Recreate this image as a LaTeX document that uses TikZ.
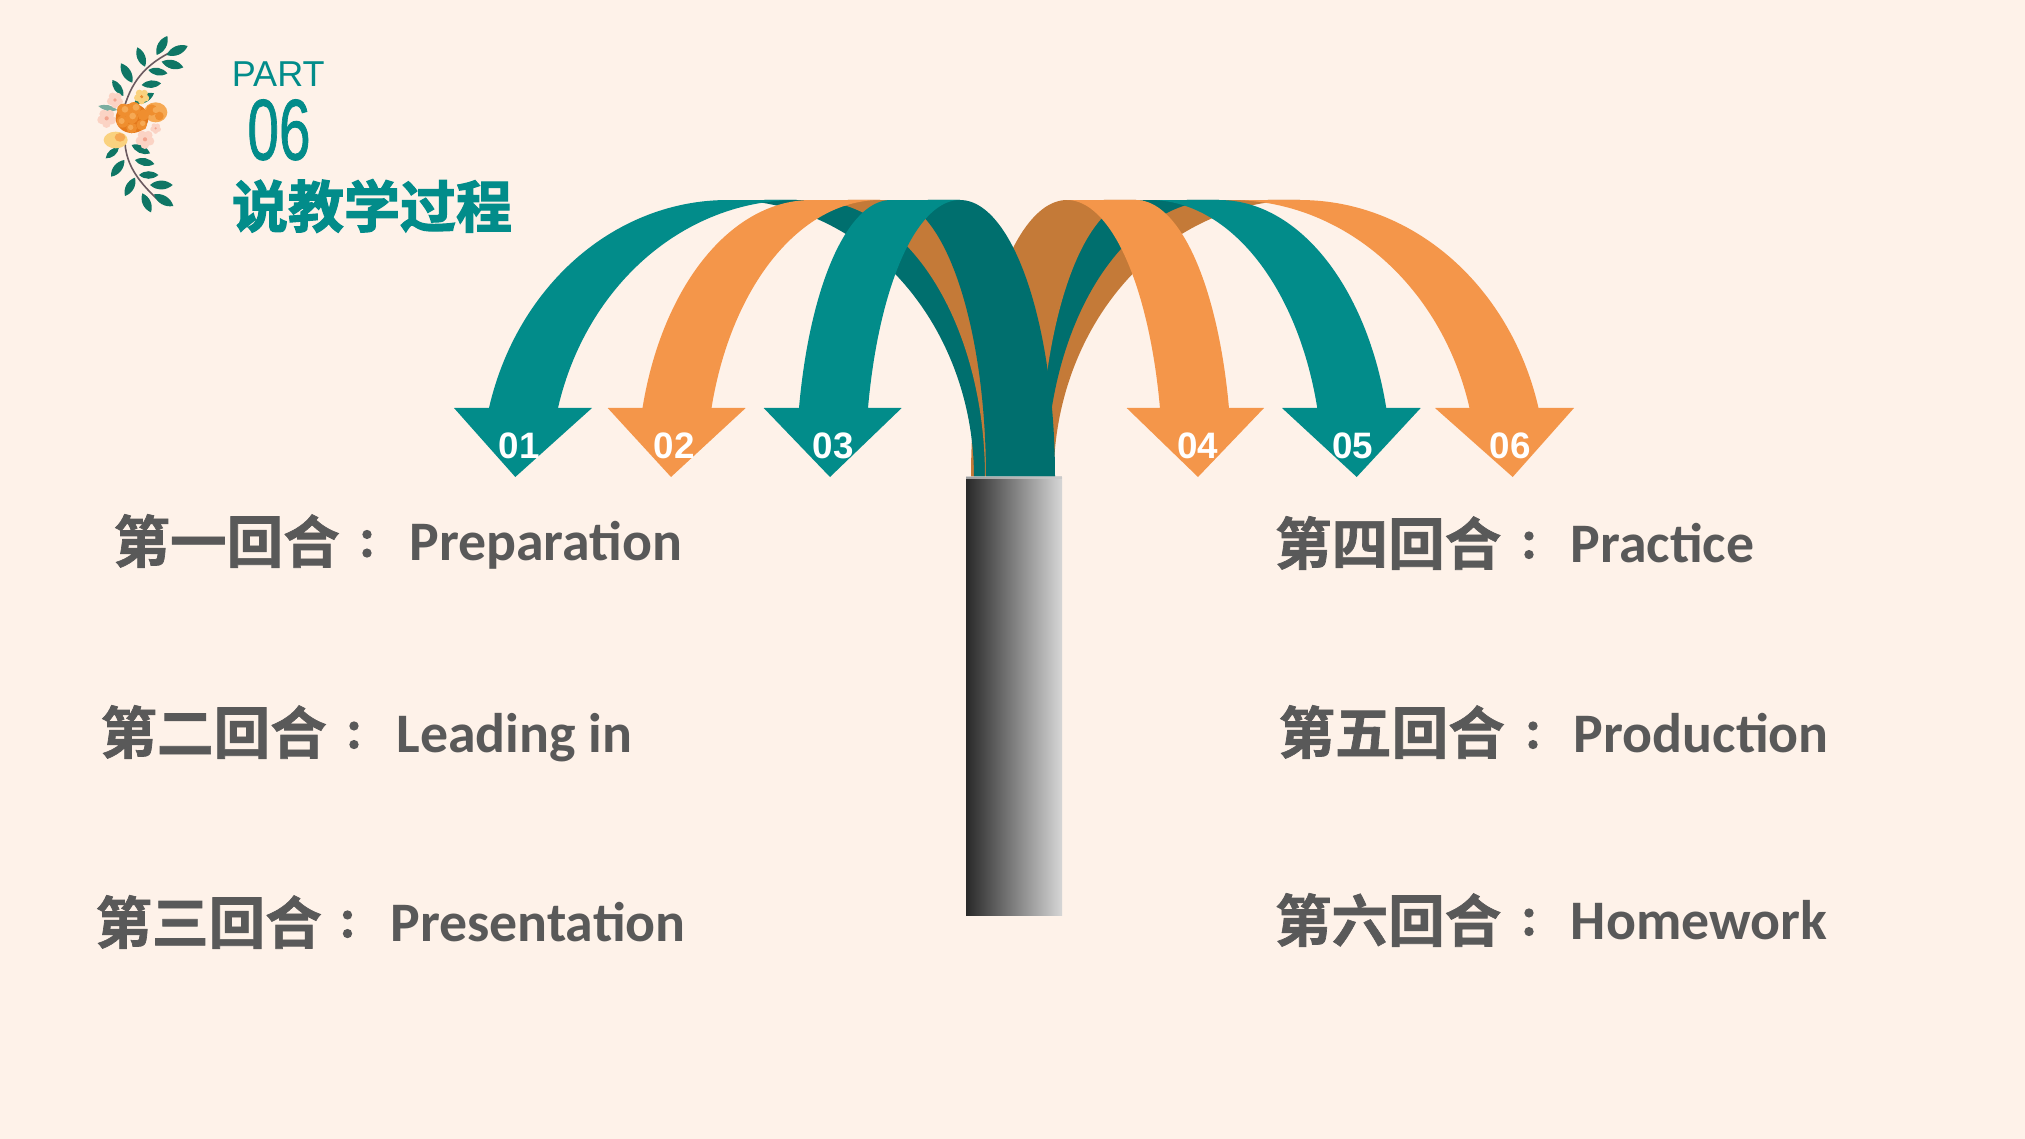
\documentclass[tikz,border=0pt]{standalone}
\usepackage{fontspec}
\setmainfont{Liberation Sans}
\newfontfamily\cjkheavy[FakeBold=2.2]{Noto Sans CJK SC Bold}
\newfontfamily\cjkrow[FakeBold=1.2]{Noto Sans CJK SC Bold}
\newfontfamily\cjkcolon[FakeBold=4.5]{Noto Sans CJK TC Bold}
\newfontfamily\numeralface[FakeBold=1.2]{Liberation Sans}
\newfontfamily\latinrow{Carlito}
\definecolor{paper}{HTML}{FEF2E9}
\definecolor{teal}{HTML}{028C8A}
\definecolor{tealdark}{HTML}{006F6E}
\definecolor{amber}{HTML}{F4964A}
\definecolor{amberdark}{HTML}{C47A38}
\definecolor{inkgrey}{HTML}{595959}
\definecolor{leafgreen}{HTML}{0F7665}
\definecolor{stemgrey}{HTML}{6B5A60}
\definecolor{petaldeep}{HTML}{E4791C}
\definecolor{petalmid}{HTML}{EF8E2F}
\definecolor{petallight}{HTML}{F6A954}
\definecolor{petalpale}{HTML}{FAD27F}
\definecolor{blush}{HTML}{FBD3C4}
\definecolor{blushdeep}{HTML}{F3A58F}
\tikzset{
  numlabel/.style={text=white,font=\fontsize{18.4pt}{18pt}\selectfont\bfseries,inner sep=0pt,anchor=center},
  cjklabel/.style={text=inkgrey,font=\cjkrow\fontsize{28.3pt}{28pt}\selectfont,inner sep=0pt,anchor=west},
  colonlabel/.style={text=inkgrey,font=\cjkcolon\fontsize{19.5pt}{20pt}\selectfont,inner sep=0pt,anchor=center},
  latinlabel/.style={text=inkgrey,font=\latinrow\bfseries\fontsize{27.9pt}{28pt}\selectfont,inner sep=0pt,anchor=base west},
  leaf/.style={fill=leafgreen,draw=none}
}
% Left-hand arrow: #1 outer centre, #2 half width, #3 head left, #4 head right, #5 tip, #6 front colour, #7 back colour
\newcommand\archleft[7]{%
  \pgfmathsetmacro\cb{#1+69}%
  \fill[#7] plot[domain=0:90,samples=60,variable=\t] ({#1+#2*cos(\t)},{477-277*sin(\t)})
     -- plot[domain=90:0,samples=60,variable=\t] ({\cb+#2*cos(\t)},{477-277*sin(\t)}) -- cycle;
  \fill[#6] plot[domain=165.57:90,samples=60,variable=\t] ({#1+#2*cos(\t)},{477-277*sin(\t)})
     -- plot[domain=90:165.57,samples=60,variable=\t] ({\cb+#2*cos(\t)},{477-277*sin(\t)})
     -- (#4,408) -- (#5,477) -- (#3,408) -- cycle;
}
% Right-hand arrow: same arguments, the front limb falling to the right
\newcommand\archright[7]{%
  \pgfmathsetmacro\cb{#1+69}%
  \fill[#7] plot[domain=180:90,samples=60,variable=\t] ({#1+#2*cos(\t)},{477-277*sin(\t)})
     -- plot[domain=90:180,samples=60,variable=\t] ({\cb+#2*cos(\t)},{477-277*sin(\t)}) -- cycle;
  \fill[#6] plot[domain=14.43:90,samples=60,variable=\t] ({#1+#2*cos(\t)},{477-277*sin(\t)})
     -- plot[domain=90:14.43,samples=60,variable=\t] ({\cb+#2*cos(\t)},{477-277*sin(\t)})
     -- (#4,408) -- (#5,477) -- (#3,408) -- cycle;
}
\newcommand\leafshape[4]{\fill[leaf] (#1,#2) to[bend left=42] (#3,#4) to[bend left=42] (#1,#2);}
% Five-petal blossom: centre x, centre y, petal radius, petal colour, heart colour
\newcommand\smallbloom[5]{%
  \foreach \q in {0,72,144,216,288}{\fill[#4] ({#1+#3*0.75*cos(\q+20)},{#2+#3*0.75*sin(\q+20)}) circle[radius=#3*0.62];}
  \fill[#5] (#1,#2) circle[radius=#3*0.3];
}
\begin{document}
\begin{tikzpicture}[x=0.5pt,y=-0.5pt]
\useasboundingbox (0,0) rectangle (2025,1139);
\fill[paper] (0,0) rectangle (2025,1139);

% Spray of leaves and blossoms
\begin{scope}[shift={(60,10)},x=0.16667pt,y=-0.16667pt]
  \draw[stemgrey,line width=0.8pt,line cap=round] (195,285) .. controls (215,220) and (250,170) .. (325,130);
  \draw[stemgrey,line width=0.8pt,line cap=round] (195,400) .. controls (200,470) and (240,520) .. (300,575);
  \leafshape{290}{135}{322}{78}
  \leafshape{320}{135}{383}{108}
  \leafshape{255}{170}{232}{112}
  \leafshape{305}{155}{370}{172}
  \leafshape{265}{180}{322}{190}
  \leafshape{217}{218}{183}{160}
  \leafshape{245}{225}{303}{220}
  \leafshape{190}{258}{157}{210}
  \leafshape{137}{445}{177}{412}
  \leafshape{225}{450}{283}{462}
  \leafshape{153}{500}{193}{450}
  \leafshape{237}{495}{295}{495}
  \leafshape{195}{558}{225}{503}
  \leafshape{270}{525}{338}{525}
  \leafshape{273}{607}{247}{550}
  \leafshape{282}{553}{340}{588}
  \leafshape{215}{405}{270}{430}
  \leafshape{222}{280}{282}{250}
  \fill[leafgreen!55!paper] (115,288) to[bend left=30] (172,300) to[bend left=30] (115,288);
  \smallbloom{140}{325}{21}{blush}{blushdeep}
  \smallbloom{165}{270}{18}{blush}{blushdeep}
  \smallbloom{255}{388}{21}{blush}{blushdeep}
  \smallbloom{287}{355}{12}{blush}{blushdeep}
  \smallbloom{245}{260}{17}{petalpale}{petalmid}
  \fill[petalpale] (167,390) ellipse[x radius=36,y radius=25];
  \fill[petallight] (180,382) ellipse[x radius=16,y radius=13];
  % Second, lighter blossom
  \fill[petallight] (287,307) ellipse[x radius=35,y radius=30];
  \fill[petalmid] (275,300) circle[radius=17];
  \fill[petalmid] (298,318) circle[radius=13];
  \fill[petallight] (287,300) circle[radius=9];
  % Main blossom, built from overlapping petals
  \fill[petaldeep] (216,325) ellipse[x radius=49,y radius=44];
  \foreach \px/\py/\pr in {190/300/19,222/296/20,250/315/17,188/335/18,215/322/19,245/345/16,215/354/16}{
    \fill[petalmid] (\px,\py) circle[radius=\pr];
  }
  \foreach \px/\py/\pr in {195/298/10,228/292/10,185/333/9,218/318/10,248/340/8,212/352/8}{
    \fill[petallight] (\px,\py) circle[radius=\pr];
  }
\end{scope}

% Heading
\node[name=partword,text=teal,inner sep=0pt,anchor=base west,font=\fontsize{18pt}{18pt}\selectfont] at (231.5,87) {PART};
\node[name=partnumber,text=teal,inner sep=0pt,anchor=base west] at (247,159.5)
  {\scalebox{0.66}[1]{\numeralface\fontsize{43pt}{44pt}\selectfont 06}};
\node[name=heading,text=teal,inner sep=0pt,anchor=center,font=\cjkheavy\fontsize{28pt}{28pt}\selectfont] at (372,206) {说教学过程};

% Arrows: the right-hand fan lies behind the left-hand one
\archright{1231}{246.3}{1435}{1574}{1512.7}{amber}{amberdark}
\archright{1150}{172.7}{1282}{1420.7}{1356.7}{teal}{tealdark}
\archright{1067}{96}{1126.7}{1264}{1198}{amber}{amberdark}
\archleft{727.6}{246.4}{454}{592}{515.3}{teal}{tealdark}
\archleft{811}{174}{607.7}{745.7}{671}{amber}{amberdark}
\archleft{891}{95}{763.7}{901.7}{830}{teal}{tealdark}

\node[numlabel,name=n1] at (519,445.5) {01};
\node[numlabel,name=n2] at (674,445.5) {02};
\node[numlabel,name=n3] at (833,445.5) {03};
\node[numlabel,name=n4] at (1197.5,445.5) {04};
\node[numlabel,name=n5] at (1352.5,445.5) {05};
\node[numlabel,name=n6] at (1510,445.5) {06};

% Trunk
\shade[left color=black!84,right color=black!16] (966,477) rectangle (1062,915);
\fill[black!22,opacity=0.75] (966,476) rectangle (1062,479);

% Round list
\node[cjklabel,name=c1] at (113,541) {第一回合};
\node[colonlabel,name=k1] at (367,544.5) {：};
\node[latinlabel,name=e1] at (409,560.5) {Preparation};
\node[cjklabel,name=c2] at (100,732) {第二回合};
\node[colonlabel,name=k2] at (354,736) {：};
\node[latinlabel,name=e2] at (396,752) {Leading in};
\node[cjklabel,name=c3] at (95,922) {第三回合};
\node[colonlabel,name=k3] at (347.5,925) {：};
\node[latinlabel,name=e3] at (390,941) {Presentation};
\node[cjklabel,name=c4] at (1274.5,543) {第四回合};
\node[colonlabel,name=k4] at (1529,546) {：};
\node[latinlabel,name=e4] at (1570.5,562) {Practice};
\node[cjklabel,name=c5] at (1278,732) {第五回合};
\node[colonlabel,name=k5] at (1533,736) {：};
\node[latinlabel,name=e5] at (1573.5,752) {Production};
\node[cjklabel,name=c6] at (1274.5,920) {第六回合};
\node[colonlabel,name=k6] at (1529,923) {：};
\node[latinlabel,name=e6] at (1570.5,939) {Homework};
\end{tikzpicture}
\end{document}
